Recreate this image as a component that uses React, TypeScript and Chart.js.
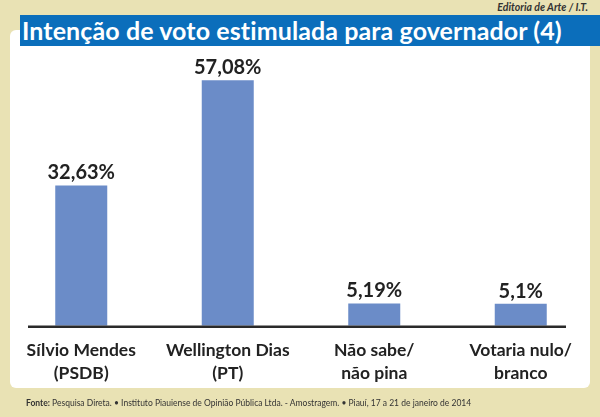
import React, { useEffect, useRef } from "react";
import { Chart, registerables } from "chart.js";

Chart.register(...registerables);

const categories: string[][] = [
  ["Sílvio Mendes", "(PSDB)"],
  ["Wellington Dias", "(PT)"],
  ["Não sabe/", "não pina"],
  ["Votaria nulo/", "branco"],
];
const values: number[] = [32.63, 57.08, 5.19, 5.1];
const valueLabels: string[] = ["32,63%", "57,08%", "5,19%", "5,1%"];

const FONT = "Lato, 'Open Sans', sans-serif";

const barLabelPlugin = {
  id: "barLabels",
  afterDatasetsDraw(chart: any) {
    const ctx = chart.ctx;
    const meta = chart.getDatasetMeta(0);
    ctx.save();
    ctx.fillStyle = "#222222";
    ctx.font = `bold 20px ${FONT}`;
    ctx.textAlign = "center";
    ctx.textBaseline = "alphabetic";
    meta.data.forEach((bar: any, i: number) => {
      ctx.fillText(valueLabels[i], bar.x, bar.y - 6);
    });
    // axis baseline
    const y = chart.scales.y.getPixelForValue(0);
    ctx.strokeStyle = "#2a2a2a";
    ctx.lineWidth = 2.5;
    ctx.beginPath();
    ctx.moveTo(28, y + 1);
    ctx.lineTo(566, y + 1);
    ctx.stroke();
    ctx.restore();
  },
};

export default function App() {
  const ref = useRef<HTMLCanvasElement>(null);
  useEffect(() => {
    if (!ref.current) return;
    const chart = new Chart(ref.current, {
      type: "bar",
      data: {
        labels: categories,
        datasets: [
          {
            data: values,
            backgroundColor: "#6b8cc8",
            borderWidth: 0,
            barPercentage: 0.355,
            categoryPercentage: 1,
          },
        ],
      },
      options: {
        animation: false,
        responsive: false,
        layout: { padding: { left: 8, right: 6, top: 59, bottom: 19 } },
        plugins: { legend: { display: false }, tooltip: { enabled: false }, title: { display: false } },
        scales: {
          x: {
            grid: { display: false, drawTicks: false },
            border: { display: false },
            ticks: {
              color: "#222222",
              font: { family: FONT, size: 17.5, weight: "bold", lineHeight: 1.32 },
              padding: 13,
              maxRotation: 0,
              autoSkip: false,
            },
          },
          y: { display: false, min: 0, max: 62 },
        },
      },
      plugins: [barLabelPlugin],
    });
    return () => chart.destroy();
  }, []);

  return (
    <div
      style={{
        position: "fixed",
        left: 0,
        top: 0,
        width: 600,
        height: 417,
        background: "#e9e2b4",
        overflow: "hidden",
        fontFamily: FONT,
      }}
    >
      <div
        style={{
          position: "absolute",
          left: 10,
          top: 30,
          width: 580,
          height: 358,
          background: "#ffffff",
          borderRadius: 6,
        }}
      />
      <div
        style={{
          position: "absolute",
          right: 12,
          top: 1,
          fontSize: 10.5,
          fontStyle: "italic",
          fontWeight: "bold",
          color: "#333",
        }}
      >
        Editoria de Arte / I.T.
      </div>
      <div
        style={{
          position: "absolute",
          left: 20,
          top: 15,
          width: 580,
          height: 31,
          background: "#0b6ebb",
          color: "#ffffff",
          fontWeight: "bold",
          fontSize: 25,
          letterSpacing: 0.1,
          lineHeight: "31px",
          paddingLeft: 2,
          boxSizing: "border-box",
          whiteSpace: "nowrap",
        }}
      >
        Intenção de voto estimulada para governador (4)
      </div>
      <canvas
        ref={ref}
        width={600}
        height={417}
        style={{ position: "absolute", left: 0, top: 0, width: 600, height: 417 }}
      />
      <div
        style={{
          position: "absolute",
          left: 26,
          top: 398,
          fontSize: 8.5,
          color: "#333",
          whiteSpace: "nowrap",
        }}
      >
        <b>Fonte:</b> Pesquisa Direta. • Instituto Piauiense de Opinião Pública Ltda. - Amostragem. • Piauí, 17 a 21 de janeiro de 2014
      </div>
    </div>
  );
}
